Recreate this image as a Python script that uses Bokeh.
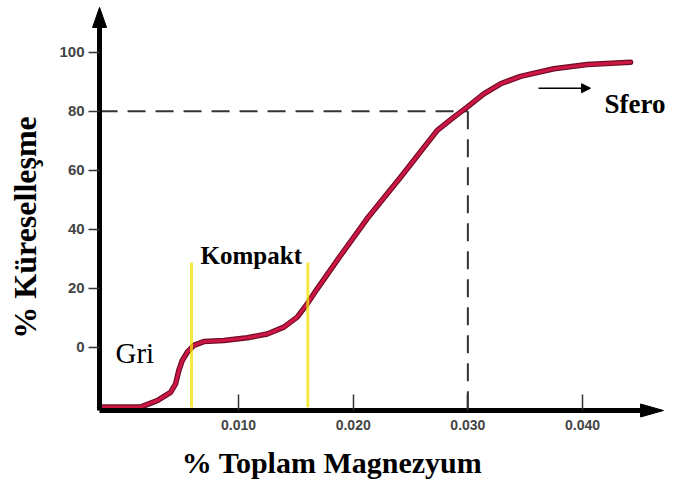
import math
from bokeh.plotting import figure
from bokeh.models import (Range1d, FixedTicker, NumeralTickFormatter, Arrow, NormalHead, Label)
from bokeh.embed import file_html
from bokeh.resources import INLINE

# --- data ---
mg = [-0.00212, 0.00145, 0.00291, 0.00407, 0.00451, 0.00479, 0.00509, 0.00553, 0.00610, 0.00697,
      0.00872, 0.01076, 0.01250, 0.01395, 0.01512, 0.01599, 0.01686, 0.01744, 0.01890, 0.02122,
      0.02413, 0.02733, 0.02878, 0.02994, 0.03139, 0.03285, 0.03459, 0.03750, 0.04041, 0.04419]
sph = [-20.3, -20.3, -18.1, -15.3, -12.4, -7.9, -4.5, -1.7, 0.6, 1.9,
       2.3, 3.2, 4.5, 6.8, 10.2, 14.7, 19.8, 23.0, 31.1, 43.6,
       57.6, 73.5, 78.0, 81.4, 85.9, 89.3, 91.8, 94.4, 95.8, 96.6]
x_ticks = [0.010, 0.020, 0.030, 0.040]
y_ticks = [0, 20, 40, 60, 80, 100]
compact_bounds = [0.0059, 0.01604]
compact_low, compact_top = -20.4, 28.7
sfero_mg, sfero_sph = 0.030, 80

# axis origin (where the two axis lines meet) and plot extent
AX_X, AX_Y = -0.00212, -21.46
XMIN, XMAX = -0.01076, 0.04837
YMIN, YMAX = -46.2, 117.53

p = figure(width=678, height=483, x_range=Range1d(XMIN, XMAX), y_range=Range1d(YMIN, YMAX),
           output_backend="svg", toolbar_location=None,
           min_border_left=0, min_border_right=0, min_border_top=0, min_border_bottom=0)
p.outline_line_color = None
p.grid.visible = False
p.background_fill_color = "white"
p.border_fill_color = "white"

# reference dashed lines at 80 % / 0.030
p.line([AX_X, sfero_mg], [sfero_sph, sfero_sph], line_color="#333333", line_width=2, line_dash="18 10")
p.line([sfero_mg, sfero_mg], [sfero_sph, AX_Y], line_color="#333333", line_width=2, line_dash="18 10")

# curve
p.line(mg, sph, line_color="#6e0c24", line_width=5.5, line_join="round", line_cap="round")
p.line(mg, sph, line_color="#cc1644", line_width=3.2, line_join="round", line_cap="round")

# compact region bounds
p.segment(x0=compact_bounds, y0=[compact_low] * 2, x1=compact_bounds, y1=[compact_top] * 2,
          line_color="#f2e200", line_alpha=0.75, line_width=3)

# axes, fixed at the axis origin
for ax in (p.xaxis, p.yaxis):
    ax.axis_line_color = "black"
    ax.axis_line_width = 5
    ax.minor_tick_in = 0
    ax.minor_tick_out = 0
    ax.major_tick_line_color = "#333333"
    ax.major_tick_line_width = 1.5
    ax.major_label_text_font = "Liberation Sans"
    ax.major_label_text_font_style = "bold"
    ax.major_label_text_color = "#444444"

p.yaxis.fixed_location = AX_X
p.yaxis.bounds = (AX_Y, 109.0)
p.yaxis.ticker = FixedTicker(ticks=y_ticks)
p.yaxis.major_tick_out = 11
p.yaxis.major_tick_in = 0
p.yaxis.major_label_text_font_size = "15px"
p.yaxis.major_label_standoff = 4

p.xaxis.fixed_location = AX_Y
p.xaxis.bounds = (AX_X, 0.04506)
p.xaxis.ticker = FixedTicker(ticks=x_ticks)
p.xaxis.formatter = NumeralTickFormatter(format="0.000")
p.xaxis.major_tick_out = 0
p.xaxis.major_tick_in = 16
p.xaxis.major_label_text_font_size = "14px"
p.xaxis.major_label_standoff = 9

# arrowheads of the axes
p.patches(xs=[[-0.00273, -0.00212, -0.00151], [0.04506, 0.04706, 0.04506]],
          ys=[[108.4, 115.2, 108.4], [-19.26, AX_Y, -23.66]],
          fill_color="black", line_color="black", line_width=1)

# axis titles
p.add_layout(Label(x=-0.00858, y=40.6, text="% Küreselleşme", text_font="Liberation Serif",
                   text_font_style="bold", text_font_size="32px", text_align="center",
                   text_baseline="middle", angle=math.pi / 2, text_color="black"))
p.add_layout(Label(x=0.01815, y=-39.1, text="% Toplam Magnezyum", text_font="Liberation Serif",
                   text_font_style="bold", text_font_size="30px", text_align="center",
                   text_baseline="middle", text_color="black"))

# annotations
p.add_layout(Arrow(end=NormalHead(size=9, fill_color="black", line_color="black"),
                   x_start=0.03616, y_start=87.8, x_end=0.0407, y_end=87.8, line_width=1.5, line_color="black"))
p.add_layout(Label(x=0.04192, y=82.6, text="Sfero", text_font="Liberation Serif", text_font_style="bold",
                   text_font_size="27px", text_baseline="alphabetic", text_color="black"))
p.add_layout(Label(x=-0.00073, y=-2.1, text="Gri", text_font="Liberation Serif",
                   text_font_size="29px", text_baseline="alphabetic", text_color="black"))
p.add_layout(Label(x=0.00669, y=31.1, text="Kompakt", text_font="Liberation Serif", text_font_style="bold",
                   text_font_size="25px", text_baseline="alphabetic", text_color="black"))

open("out.html", "w").write(file_html(p, INLINE))
